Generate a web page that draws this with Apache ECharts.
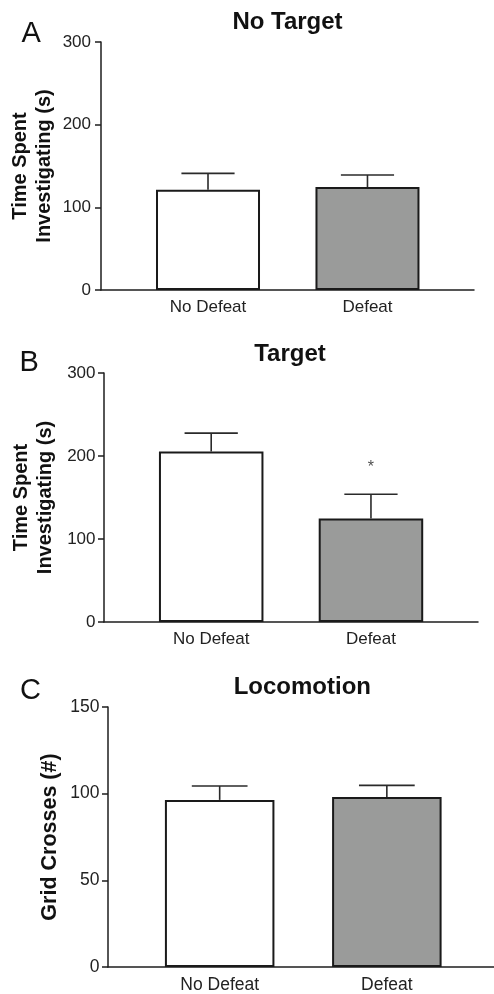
<!DOCTYPE html>
<html><head><meta charset="utf-8">
<script src="https://cdn.jsdelivr.net/npm/echarts@6/dist/echarts.min.js"></script>
<style>html,body{margin:0;padding:0;background:#fff}#c{width:494px;height:994px}</style>
</head><body><div id="c"></div>
<script>
// ---- data ----
const categories = ['No Defeat', 'Defeat'];
const noTargetMean = [121.3, 124.5];
const noTargetSem  = [19.8, 14.6];
const targetMean   = [205.4, 124.6];
const targetSem    = [22.2, 29.4];
const targetSig    = ['', '*'];
const locoMean     = [96.4, 98.1];
const locoSem      = [8.0, 6.7];
const timeTicks    = [0, 100, 200, 300];
const locoTicks    = [0, 50, 100, 150];
const panelTitles  = ['No Target', 'Target', 'Locomotion'];
const panelLetters = ['A', 'B', 'C'];
const yNames       = ['Time Spent\nInvestigating (s)', 'Time Spent\nInvestigating (s)', 'Grid Crosses (#)'];
const fills        = ['#ffffff', '#9a9b9a'];

const FONT = '"Liberation Sans", Arial, Helvetica, sans-serif';
const INK = '#1e1e1e';

const panels = [
  {mean: noTargetMean, sem: noTargetSem, ticks: timeTicks, grid: {left: 101, right: 20, top: 42, height: 248},
   xMin: -0.671, xMax: 1.668, barWidth: 104, nameFs: 20, nameGap: 45, labFs: 17, labMargin: 10, catMargin: 9},
  {mean: targetMean, sem: targetSem, ticks: timeTicks, grid: {left: 104, right: 16, top: 373, height: 249},
   xMin: -0.671, xMax: 1.670, barWidth: 104.5, nameFs: 20, nameGap: 47, labFs: 17, labMargin: 8.5, catMargin: 8.5},
  {mean: locoMean, sem: locoSem, ticks: locoTicks, grid: {left: 108, right: 0, top: 707, height: 260},
   xMin: -0.668, xMax: 1.641, barWidth: 109.5, nameFs: 21.5, nameGap: 46, labFs: 17.5, labMargin: 8.5, catMargin: 9}
];

const grids = [], xAxes = [], yAxes = [], series = [];
panels.forEach((p, i) => {
  grids.push(Object.assign({outerBoundsMode: 'none', containLabel: false}, p.grid));
  xAxes.push({
    type: 'value', gridIndex: i, min: p.xMin, max: p.xMax,
    axisLine: {show: true, onZero: false, lineStyle: {color: INK, width: 1.5}},
    axisTick: {show: false}, splitLine: {show: false},
    axisLabel: {customValues: [0, 1], formatter: v => categories[Math.round(v)] || '',
      fontSize: p.labFs, color: '#222', fontFamily: FONT, margin: p.catMargin}
  });
  const t = p.ticks;
  yAxes.push({
    type: 'value', gridIndex: i, min: t[0], max: t[t.length - 1], interval: t[1] - t[0],
    name: yNames[i], nameLocation: 'middle', nameRotate: 90, nameGap: p.nameGap, nameMoveOverlap: false,
    nameTextStyle: {fontSize: p.nameFs, fontWeight: 'bold', color: '#111', fontFamily: FONT, lineHeight: 24},
    axisLine: {show: true, onZero: false, lineStyle: {color: INK, width: 1.5}},
    axisTick: {show: true, length: 6, lineStyle: {color: INK, width: 1.5}},
    splitLine: {show: false},
    axisLabel: {fontSize: p.labFs, color: '#222', fontFamily: FONT, margin: p.labMargin}
  });
  series.push({
    type: 'bar', xAxisIndex: i, yAxisIndex: i, barWidth: p.barWidth, silent: true,
    itemStyle: {borderColor: '#1a1a1a', borderWidth: 2},
    data: p.mean.map((m, j) => ({value: [j, m], itemStyle: {color: fills[j]}}))
  });
  series.push({
    type: 'custom', xAxisIndex: i, yAxisIndex: i, silent: true, z: 5,
    data: p.mean.map((m, j) => [j, m, p.sem[j]]),
    renderItem: (params, api) => {
      const x = api.value(0), m = api.value(1), e = api.value(2);
      const p0 = api.coord([x, m]), p1 = api.coord([x, m + e]);
      const hw = api.size([1 / 3, 0])[0] / 2;
      const st = {stroke: '#2a2a2a', lineWidth: 1.6};
      return {type: 'group', children: [
        {type: 'line', shape: {x1: p0[0], y1: p0[1], x2: p1[0], y2: p1[1]}, style: st},
        {type: 'line', shape: {x1: p1[0] - hw, y1: p1[1], x2: p1[0] + hw, y2: p1[1]}, style: st}
      ]};
    }
  });
});

// significance marker (panel B)
series.push({
  type: 'scatter', xAxisIndex: 1, yAxisIndex: 1, symbolSize: 1, silent: true,
  itemStyle: {color: 'rgba(0,0,0,0)'},
  data: targetSig.map((s, j) => s ? {value: [j, targetMean[j] + targetSem[j] + 32], sig: s} : null).filter(Boolean),
  label: {show: true, position: 'inside', formatter: pr => pr.data.sig, fontSize: 16, color: '#222', fontFamily: FONT}
});

const titlePos = [[287.5, 22.4], [290, 354], [302.3, 687.5]];
const letterPos = [[21.5, 34], [19.5, 363.3], [20, 690.7]];
const graphic = [];
panelTitles.forEach((t, i) => graphic.push({type: 'text', x: titlePos[i][0], y: titlePos[i][1], silent: true,
  style: {text: t, font: 'bold 24px ' + FONT, fill: '#111', align: 'center', verticalAlign: 'middle'}}));
panelLetters.forEach((t, i) => graphic.push({type: 'text', x: letterPos[i][0], y: letterPos[i][1], silent: true,
  style: {text: t, font: '29px ' + FONT, fill: '#111', align: 'left', verticalAlign: 'middle'}}));

const chart = echarts.init(document.getElementById('c'), null, {renderer: 'canvas'});
chart.setOption({animation: false, backgroundColor: '#fff', grid: grids, xAxis: xAxes, yAxis: yAxes, series, graphic});
</script></body></html>
